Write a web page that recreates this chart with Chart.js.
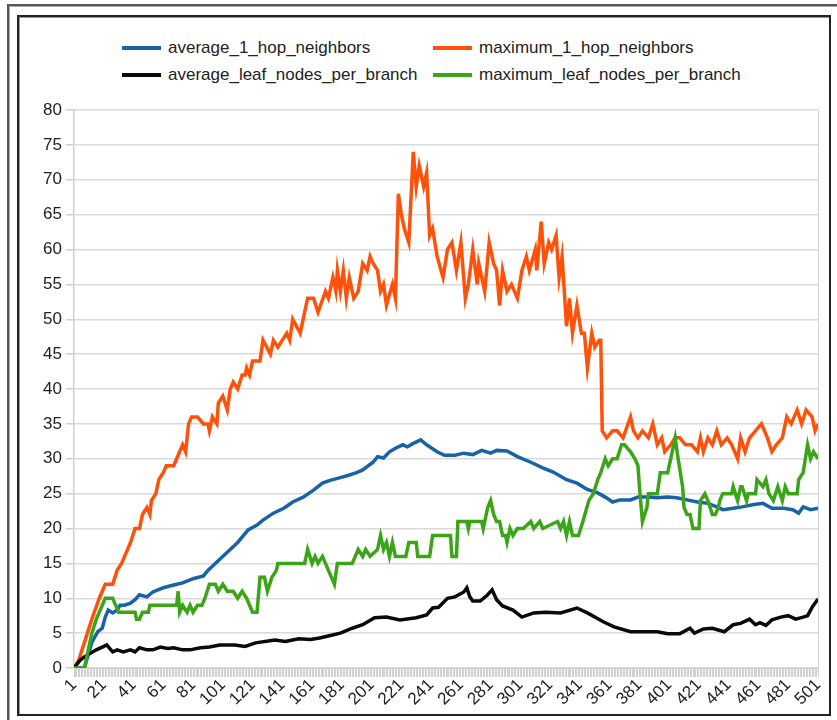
<!DOCTYPE html>
<html>
<head>
<meta charset="utf-8">
<script src="https://cdn.jsdelivr.net/npm/chart.js@4.4.1/dist/chart.umd.min.js"></script>
<style>
  html, body { margin: 0; padding: 0; background: #fff; }
  body { width: 837px; height: 720px; position: relative; overflow: hidden;
         font-family: "Liberation Sans", Arial, sans-serif; color: #222; }
  #outer { position: absolute; left: 7px; top: 4px; width: 900px; height: 900px;
           border-left: 2px solid #555; border-top: 2px solid #555; box-shadow: inset 1px 1px 0 #aaa; }
  #inner { position: absolute; left: 17px; top: 15px; width: 810px; height: 697px;
           border: 2px solid #222; box-shadow: inset 1px 1px 0 #999; }
  #legend { position: absolute; left: 0; top: 0; width: 837px; height: 95px; }
  #legend .item { position: absolute; height: 20px; display: flex; align-items: center;
                  font-size: 17px; white-space: nowrap; color: #222; }
  #legend .mark { display: inline-block; width: 39px; height: 4px; margin-right: 7px; }
  #chartBox { position: absolute; left: 0; top: 95px; width: 837px; height: 625px; }
</style>
</head>
<body>
<div id="outer"></div>
<div id="inner"></div>
<div id="legend"></div>
<div id="chartBox"><canvas id="chart"></canvas></div>
<script>
// x-axis labels shown every 20 steps
const xTickLabels = [1, 21, 41, 61, 81, 101, 121, 141, 161, 181, 201, 221, 241, 261, 281, 301,
  321, 341, 361, 381, 401, 421, 441, 461, 481, 501];

const seriesNames = ['average_1_hop_neighbors', 'maximum_1_hop_neighbors',
  'average_leaf_nodes_per_branch', 'maximum_leaf_nodes_per_branch'];

// [step, value]
const avgHop = [[1,0],[8,0],[13,3.7],[17,5.2],[20,5.7],[22,7.3],[24,8.3],[27,7.9],[30,8.3],[32,9],[35,9],
  [39,9.3],[42,9.8],[45,10.5],[50,10.2],[54,10.9],[61,11.5],[68,11.9],[74,12.2],[81,12.8],[88,13.2],
  [91,14],[97,15.2],[104,16.6],[111,18],[118,19.8],[124,20.5],[128,21.2],[135,22.2],[142,22.9],
  [148,23.8],[155,24.5],[162,25.5],[168,26.5],[173,26.9],[180,27.3],[185,27.6],[191,28],[195,28.4],
  [202,29.5],[205,30.3],[209,30.1],[213,31],[217,31.5],[222,32],[225,31.7],[229,32.2],[234,32.7],
  [238,32],[245,31],[250,30.5],[257,30.5],[263,30.8],[269,30.6],[275,31.2],[281,30.8],[285,31.2],
  [292,31.1],[299,30.3],[308,29.5],[316,28.7],[323,28.1],[332,27],[339,26.5],[346,25.6],[353,25.1],
  [358,24.5],[363,23.8],[368,24.1],[375,24.1],[380,24.5],[386,24.5],[393,24.4],[400,24.5],[406,24.4],
  [413,24.1],[420,23.8],[427,23.6],[433,23.1],[437,22.7],[444,22.9],[450,23.1],[457,23.4],[464,23.6],
  [470,22.9],[478,22.9],[484,22.7],[488,22.2],[491,23.1],[496,22.7],[501,22.9]];

const maxHop = [[1,0],[4,1],[10,5],[13,7],[18,10],[22,12],[27,12],[30,14],[33,15],[37,17],[39,18],
  [42,20],[45,20],[47,22],[50,23],[52,22],[53,24],[56,25],[58,27],[61,28],[63,29],[68,29],[70,30],
  [74,32],[76,31],[78,35],[80,36],[82,36],[84,36],[88,35],[91,35],[92,34],[94,36],[97,35],[98,38],
  [101,39],[104,37],[106,40],[108,41],[111,40],[114,42],[116,42],[117,43],[119,42],[121,44],[126,44],
  [128,47],[133,45],[135,47],[138,46],[141,47],[144,48],[146,47],[148,50],[153,48],[158,53],[162,53],
  [165,51],[170,54],[172,53],[175,56],[177,54],[178,57],[180,54],[182,57],[184,53],[186,56],[189,53],
  [192,54],[195,58],[198,57],[200,59],[202,58],[205,57],[207,54],[209,55],[211,52],[215,55],[217,53],
  [219,68],[221,65],[223,63],[226,61],[229,74],[231,69],[233,72],[236,69],[238,71],[240,62],[242,63],
  [245,59],[249,56],[252,60],[255,61],[258,57],[261,61],[264,53],[266,55],[269,60],[272,55],[273,58],
  [275,56],[277,54],[280,61],[283,58],[285,57],[287,52],[289,57],[292,54],[295,55],[299,53],[302,57],
  [305,59],[307,57],[311,60],[312,57],[315,64],[317,58],[320,61],[322,60],[325,62],[327,56],[329,59],
  [332,49],[334,53],[336,48],[339,52],[342,48],[344,48],[346,43],[349,48],[351,46],[354,47],[355,47],
  [356,34],[359,33],[363,34],[366,34],[370,33],[375,36],[377,34],[380,33],[383,34],[387,33],[390,35],
  [393,32],[396,33],[398,31],[402,32],[405,33],[408,33],[412,32],[416,32],[420,31],[422,33],[424,31],
  [427,33],[430,32],[433,34],[436,32],[440,33],[443,32],[447,30],[449,33],[452,31],[455,33],[459,34],
  [463,35],[467,33],[470,31],[473,32],[477,33],[480,36],[483,35],[487,37],[490,35],[493,37],[497,36],
  [499,34],[501,35]];

const avgLeaf = [[1,0],[5,1.1],[8,1.6],[12,2.1],[16,2.6],[20,3],[23,3.3],[27,2.3],[30,2.6],[34,2.3],
  [39,2.6],[42,2.3],[45,2.9],[50,2.6],[54,2.6],[59,3],[64,2.8],[68,2.9],[74,2.6],[79,2.6],[86,2.9],
  [92,3],[99,3.3],[109,3.3],[116,3.1],[123,3.6],[136,4],[143,3.8],[152,4.2],[160,4.1],[166,4.3],
  [174,4.7],[180,5],[188,5.7],[195,6.2],[203,7.2],[211,7.3],[220,6.9],[231,7.2],[238,7.6],[242,8.6],
  [246,8.7],[252,10],[257,10.2],[263,10.9],[265,11.5],[267,10.2],[269,9.6],[274,9.6],[279,10.5],
  [282,11.2],[285,9.8],[289,8.9],[296,8.3],[302,7.3],[310,7.9],[318,8],[328,7.9],[339,8.6],[346,7.9],
  [357,6.6],[364,5.9],[375,5.2],[381,5.2],[393,5.2],[400,4.9],[408,4.9],[415,5.7],[418,5],[424,5.6],
  [430,5.7],[438,5.2],[444,6.2],[449,6.4],[455,7],[459,6.2],[462,6.5],[466,6.1],[470,6.9],[476,7.3],
  [481,7.5],[486,7],[491,7.3],[494,7.5],[497,8.7],[501,9.9]];

const maxLeaf = [[1,0],[8,0],[10,2],[13,5],[16,7],[20,9],[22,10],[27,10],[29,9],[31,8],[42,8],[43,7],
  [45,7],[47,8],[51,8],[52,9],[70,9],[71,11],[72,8],[74,9],[77,8],[79,9],[81,8],[84,9],[87,9],[89,10],
  [92,12],[96,12],[98,11],[101,12],[104,11],[108,11],[111,10],[114,11],[117,10],[121,8],[124,8],
  [126,13],[129,13],[131,11],[134,13],[137,14],[138,15],[156,15],[158,17],[161,15],[163,16],[165,15],
  [168,16],[170,15],[174,13],[176,12],[178,15],[188,15],[190,16],[192,17],[195,16],[197,17],[200,16],
  [205,17],[207,19],[209,17],[211,18],[213,16],[215,18],[217,16],[224,16],[226,18],[231,18],[232,16],
  [240,16],[242,19],[254,19],[255,16],[258,16],[259,21],[265,21],[266,20],[267,21],[275,21],[276,20],
  [279,23],[281,24],[283,22],[285,21],[287,21],[289,19],[291,19],[292,18],[294,20],[296,19],[299,20],
  [303,20],[308,21],[310,20],[314,21],[316,20],[326,21],[328,20],[330,21],[332,19],[334,21],[336,19],
  [340,19],[343,21],[347,24],[350,25],[353,27],[355,28],[358,30],[360,29],[363,30],[366,30],[369,32],
  [371,32],[375,31],[378,30],[380,29],[381,26],[383,21],[386,23],[387,25],[393,25],[395,28],[400,28],
  [403,31],[405,33],[407,30],[410,26],[411,23],[413,22],[415,22],[417,20],[421,20],[422,24],[425,25],
  [427,24],[430,22],[432,22],[434,23],[435,24],[437,25],[443,25],[444,26],[447,24],[449,26],[450,26],
  [453,24],[454,25],[459,25],[460,27],[464,26],[466,27],[468,25],[471,24],[474,26],[477,24],[479,26],
  [481,25],[487,25],[488,27],[491,28],[494,32],[496,30],[498,31],[501,30]];

const seriesData = [avgHop, maxHop, avgLeaf, maxLeaf];
const seriesColors = ['#1862a8', '#ff5109', '#0a0a0a', '#3aa517'];
const drawOrder = [3, 2, 1, 0]; // green drawn on top, like the original

const toPoints = rows => rows.map(r => ({ x: r[0], y: r[1] }));

const labelFont = { family: '"Liberation Sans", Arial, sans-serif', size: 17 };

const chart = new Chart(document.getElementById('chart'), {
  type: 'line',
  data: {
    datasets: seriesNames.map((name, i) => ({
      label: name,
      data: toPoints(seriesData[i]),
      borderColor: seriesColors[i],
      backgroundColor: seriesColors[i],
      borderWidth: 3.5,
      pointRadius: 0,
      tension: 0,
      order: drawOrder[i]
    }))
  },
  options: {
    responsive: true,
    maintainAspectRatio: false,
    animation: false,
    layout: { padding: { top: 15, right: 19, bottom: 0, left: 0 } },
    plugins: { legend: { display: false }, tooltip: { enabled: false } },
    scales: {
      x: {
        type: 'linear',
        min: 1,
        max: 501,
        afterFit: s => { s.height = 52; },
        ticks: {
          stepSize: 1,
          autoSkip: false,
          minRotation: 45,
          maxRotation: 45,
          padding: -2,
          color: '#222',
          font: labelFont,
          callback: v => (xTickLabels.includes(v) ? String(v) : '')
        },
        grid: {
          drawOnChartArea: true,
          color: c => (c.tick && c.tick.value === 501 ? '#d2d2d2' : 'rgba(0,0,0,0)'),
          tickColor: '#d0d0d0',
          tickLength: 9
        },
        border: { color: '#cfcfcf' }
      },
      y: {
        min: 0,
        max: 80,
        afterFit: s => { s.width = 74; },
        ticks: { stepSize: 5, padding: 4, color: '#222', font: labelFont },
        grid: { color: '#dadada', tickColor: '#cfcfcf', tickLength: 8, lineWidth: 1.5 },
        border: { color: '#cfcfcf', width: 1.5 }
      }
    }
  }
});

// legend laid out in two aligned columns, built from the chart's datasets
const legendBox = document.getElementById('legend');
chart.data.datasets.forEach((ds, i) => {
  const item = document.createElement('div');
  item.className = 'item';
  item.style.left = (i % 2 ? 433 : 122) + 'px';
  item.style.top = (i < 2 ? 38 : 65) + 'px';
  const mark = document.createElement('span');
  mark.className = 'mark';
  mark.style.background = ds.borderColor;
  item.appendChild(mark);
  item.appendChild(document.createTextNode(ds.label));
  legendBox.appendChild(item);
});
</script>
</body>
</html>
